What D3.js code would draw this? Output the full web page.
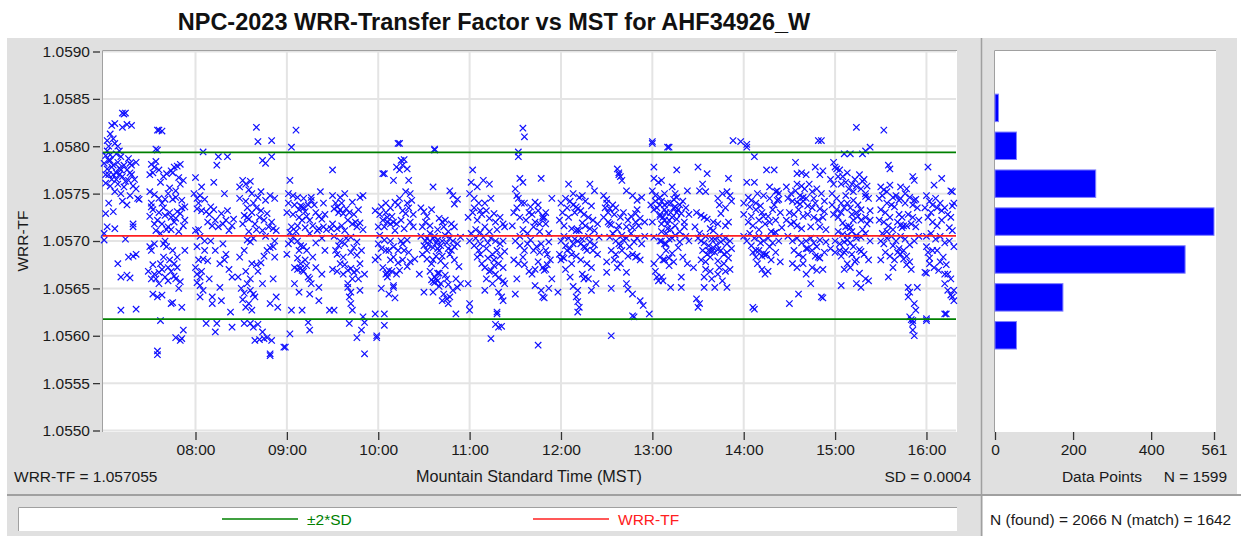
<!DOCTYPE html>
<html lang="en">
<head>
<meta charset="utf-8">
<title>NPC-2023 WRR-Transfer Factor vs MST</title>
<script src="https://cdn.jsdelivr.net/npm/d3@7"></script>
<style>
  body { margin: 0; background: #fff; }
  svg { display: block; font-family: "Liberation Sans", Arial, sans-serif; }
  .lbl { font-size: 15.5px; fill: #1a1a1a; }
  .axis text { font-size: 15.5px; fill: #1a1a1a; font-family: "Liberation Sans", Arial, sans-serif; }
  .axis line { stroke: #333; stroke-width: 1.3; }
</style>
</head>
<body>
<svg id="chart" width="1241" height="536"></svg>
<script>
// observations: [minutes after 07:00 MST, (WRR-TF - 1.05) * 1e5]
const obs07 = [
  [13,834],[14,835],[12,835],[5,822],[7,824],[12,820],[15,823],[18,822],[2,806],[4,813],[7,803],[9,800],[3,800],[6,808],
  [1,790],[4,791],[8,792],[11,789],[0,782],[2,776],[3,770],[5,765],[6,780],[8,772],[9,760],[10,777],[12,768],[13,757],
  [15,775],[16,764],[17,782],[18,770],[19,758],[11,750],[1,761],[7,752],[21,783],[21,755],[23,744],[19,715],[1,729],
  [6,731],[2,715],[7,713],[0,708],[0,701],[19,718],[22,745],[4,785],[10,795],
  [2,795],[3,785],[5,778],[6,770],[8,765],[9,783],[10,770],[11,775],[13,780],[14,763],[16,787],[17,772],[18,780],[20,765],
  [1,770],[4,758],[12,742],[15,738],[17,748],[3,740],
  [21,686],[16,683],[19,684],[9,676],[11,662],[15,664],[17,661],[11,627],[21,628],[14,702],
  [35,817],[36,817],[38,816],[34,797],[35,796],[31,781],[33,778],[36,775],[39,768],[41,771],[44,774],[46,778],[48,779],
  [50,781],[45,772],[52,764],[50,760],[30,752],[33,749],[38,740],[40,744],[42,750],[47,753],[51,743],[53,736],[31,740],
  [31,736],[32,733],[36,730],[40,727],[44,725],[48,731],[50,729],[35,722],[38,718],[42,715],[46,720],[52,716],[45,744],
  [47,746],[30,726],[34,711],[37,708],[41,712],[49,710],[53,722],
  [30,770],[32,772],[34,784],[37,762],[43,756],[49,767],[36,745],[39,735],[43,730],[47,724],[51,735],[33,718],[44,712],
  [40,700],[45,690],[42,672],[32,675],[49,650],[36,667],[47,660],
  [31,690],[33,697],[30,694],[39,683],[43,680],[46,676],[48,683],[29,668],[31,660],[33,665],[36,655],[38,670],[40,662],
  [42,658],[44,668],[46,663],[48,672],[50,657],[32,644],[35,641],[38,643],[44,634],[45,635],[51,630],[37,616],[52,606],
  [47,598],[50,595],[51,597],[35,584],[35,580],[53,690],[39,697],[41,694],[37,676],[34,660]
];
const obs08 = [
  [65,794],[75,789],[81,789],[74,780],[60,767],[72,762],[59,750],[61,745],[63,748],[66,744],[79,750],[61,734],[64,732],
  [67,731],[72,733],[70,736],[71,716],[75,715],[78,718],[82,711],[84,716],[60,711],[62,712],[68,720],[80,722],[85,723],
  [62,740],[64,757],[69,728],[73,722],[77,729],[81,732],[63,705],[66,700],[73,690],[79,680],[82,670],[65,648],[69,660],
  [61,694],[80,686],[62,680],[65,681],[68,679],[76,676],[60,672],[61,665],[63,662],[64,668],[61,656],[63,653],[63,641],
  [71,641],[77,637],[71,634],[83,625],[67,613],[74,613],[84,609],[73,604],[84,662],[76,651],[66,690],[70,700],[78,697],
  [100,820],[101,805],[110,806],[110,789],[106,782],[104,785],[89,757],[91,764],[93,760],[95,754],[96,763],[101,746],
  [103,752],[106,743],[109,748],[112,745],[92,727],[94,725],[95,723],[97,730],[99,718],[103,732],[105,722],[100,712],
  [104,711],[108,715],[111,713],[113,711],[91,718],[94,735],[98,740],[89,745],
  [93,742],[97,750],[100,735],[102,725],[107,729],[110,720],[95,710],[106,705],[93,668],[96,660],[105,684],[112,700],[111,660],
  [94,701],[96,699],[98,703],[92,690],[89,683],[97,676],[100,675],[103,677],[107,690],[109,693],[111,694],[112,683],
  [90,650],[92,645],[94,655],[96,648],[98,644],[91,638],[93,630],[95,634],[97,627],[99,641],[104,655],[109,634],[113,641],
  [114,630],[92,613],[96,613],[101,612],[98,609],[99,595],[102,596],[105,597],[107,598],[110,595],[109,581],[109,579],
  [104,604],[88,662],[101,668]
];
const obs09 = [
  [126,817],[123,799],[122,764],[121,750],[124,748],[127,746],[131,745],[136,743],[142,752],[136,746],[130,736],[129,737],
  [131,735],[120,730],[124,728],[128,725],[133,726],[135,722],[139,730],[143,723],[145,728],[130,722],[123,715],[127,716],
  [132,714],[137,716],[141,713],[144,715],[122,709],[126,710],[135,708],[140,711],[146,712],[128,733],[132,731],
  [121,740],[125,738],[134,738],[138,738],[141,726],[144,740],[127,700],[129,695],[133,690],[139,698],[143,703],[145,690],
  [127,682],[132,680],[139,672],[143,665],
  [121,697],[123,700],[124,704],[131,694],[120,686],[128,690],[137,683],[125,672],[127,670],[129,676],[131,668],[133,674],
  [129,671],[130,669],[135,660],[136,655],[134,662],[125,655],[141,651],[128,646],[135,644],[141,637],[123,627],[130,627],
  [148,627],[134,614],[135,606],[122,602],[119,588],[118,588],
  [150,775],[150,748],[155,746],[158,750],[170,748],[163,741],[168,746],[151,734],[153,736],[155,733],[154,730],[157,729],
  [159,734],[150,718],[153,713],[156,716],[160,722],[163,718],[166,715],[168,719],[170,712],[158,711],[165,720],[149,713],
  [152,740],[156,740],[161,730],[164,728],[167,733],[151,705],[154,695],[159,703],[164,693],[169,690],[155,676],[158,675],
  [163,660],[167,660],
  [155,700],[158,697],[162,704],[166,699],[152,690],[153,686],[157,683],[162,688],[166,685],[168,676],[150,670],[153,668],
  [157,665],[160,669],[162,671],[164,667],[166,669],[171,665],[160,655],[160,651],[168,648],[162,646],[161,641],[162,634],
  [151,627],[163,627],[170,620],[171,614],[161,613],[169,606],[171,581],[166,598]
];
const obs10 = [
  [183,771],[184,771],[178,732],[181,728],[183,722],[186,725],[185,730],[180,715],[184,715],[188,718],[182,736],[190,720],
  [180,697],[182,692],[184,701],[187,690],[178,680],[180,683],[183,672],[185,665],[187,669],[186,662],[182,650],[187,644],
  [190,653],[190,651],[178,623],[184,611],[184,623],[179,598],[179,600],[181,706],[185,690],[188,680],
  [193,803],[194,803],[195,785],[197,786],[192,778],[194,775],[196,780],[199,776],[190,764],[200,764],[201,750],[188,735],
  [191,741],[193,738],[196,732],[199,740],[202,743],[186,720],[189,726],[192,718],[195,722],[198,729],[201,720],[191,711],
  [197,713],[203,715],[188,700],[190,694],[193,690],[196,697],[199,701],[190,683],[193,677],[196,680],[199,673],[201,678],
  [204,681],[186,666],[189,668],[192,665],[194,669],[195,700],[191,640],
  [185,740],[194,745],[198,752],[200,735],[203,728],[197,690],[200,688],
  [217,796],[217,797],[216,757],[227,753],[229,748],[232,744],[230,739],[208,735],[210,731],[212,726],[215,733],[220,724],
  [222,720],[224,722],[228,718],[230,715],[208,705],[211,700],[213,696],[216,703],[218,698],[216,693],[219,701],[221,695],
  [224,706],[226,692],[229,700],[232,697],[234,704],[214,708],[226,710],
  [209,715],[211,720],[214,716],[219,712],[223,715],[210,695],[212,703],[214,700],[217,705],[219,692],[222,700],[225,698],
  [227,703],[230,694],[212,690],[220,690],[228,690],[216,680],[222,684],[219,666],[218,660],[216,657],[220,652],[225,660],
  [231,660],
  [209,686],[212,681],[215,676],[218,684],[221,679],[224,674],[227,686],[230,680],[233,673],[207,665],[214,668],[217,662],
  [220,666],[224,664],[215,659],[217,656],[219,658],[221,655],[226,654],[229,648],[232,651],[234,655],[210,646],[216,646],
  [223,644],[225,639],[227,641],[226,634],[231,623],[222,637]
];
const obs11 = [
  [242,775],[241,762],[245,757],[249,764],[253,760],[240,750],[243,745],[246,740],[239,725],[242,730],[245,722],[248,728],
  [251,732],[253,724],[256,729],[244,712],[247,709],[250,715],[253,710],[262,718],[241,708],[258,712],
  [243,735],[247,732],[250,740],[254,745],[257,720],[260,725],[263,715],[244,703],[247,697],[251,692],[254,703],[257,700],
  [260,697],[262,700],[247,686],[252,682],[256,680],[259,676],[262,672],[251,660],[255,655],
  [240,700],[243,695],[246,690],[249,704],[252,698],[255,686],[258,690],[260,684],[263,689],[245,683],[248,676],[250,672],
  [253,668],[254,669],[256,674],[257,665],[259,661],[262,658],[263,655],[239,655],[250,648],[259,646],[261,641],[262,637],
  [240,634],[240,627],[258,625],[258,623],[257,612],[261,610],[259,609],[254,597],
  [275,819],[276,810],[272,794],[272,789],[273,766],[275,762],[287,766],[270,755],[271,748],[272,745],[294,745],[276,740],
  [280,736],[283,741],[285,738],[269,730],[273,725],[277,722],[281,728],[285,732],[288,724],[288,726],[289,725],[290,730],
  [268,716],[275,712],[278,708],[282,715],[286,710],
  [271,735],[274,740],[279,730],[283,720],[286,718],[290,718],[292,708],[273,705],[278,697],[282,690],[286,688],[291,686],
  [276,675],[279,668],[283,670],[294,660],
  [270,700],[273,695],[276,690],[280,701],[284,694],[287,697],[290,690],[292,699],[269,680],[272,676],[275,683],[285,678],
  [288,672],[289,669],[290,670],[291,675],[293,680],[281,665],[271,660],[283,653],[287,648],[292,650],[270,644],[288,641],
  [289,640],[285,590]
];
const obs12 = [
  [305,760],[319,760],[322,753],[308,750],[312,746],[314,748],[300,740],[304,735],[308,738],[310,736],[311,734],[313,732],
  [316,742],[320,737],[299,722],[302,716],[305,725],[307,713],[310,711],[311,712],[312,711],[314,719],[316,716],[319,713],
  [322,711],[300,700],[303,695],[306,692],[309,702],[313,697],[315,694],[316,693],[317,690],[319,699],[322,696],[325,704],
  [299,686],[301,683],[300,680],[302,682],[307,676],[314,665],[315,660],[316,662],[323,655],[308,652],[311,648],[298,646],
  [310,641],[320,648],[311,636],[312,630],[311,625],
  [301,730],[303,745],[306,742],[309,730],[315,728],[318,725],[321,722],[324,718],[302,705],[305,703],[308,697],[311,700],
  [314,702],[318,705],[321,690],[324,686],[304,690],[307,686],[310,684],[313,680],[317,676],[320,672],[303,670],[306,662],
  [318,660],
  [337,776],[338,772],[339,768],[340,764],[338,770],[343,753],[328,748],[330,740],[332,734],[330,744],[347,748],[350,743],
  [353,746],[350,733],[349,729],[328,725],[331,720],[332,718],[333,717],[335,728],[338,716],[343,715],[347,714],[351,716],
  [329,735],[331,730],[334,738],[336,735],[339,725],[341,730],[344,722],[346,726],[349,720],[352,724],[355,720],[334,708],
  [337,712],[340,706],[343,703],[346,708],[350,703],[353,697],[355,705],[333,690],[336,686],[340,690],[344,684],[352,680],
  [335,680],[339,676],
  [332,704],[336,700],[338,697],[339,695],[341,701],[345,694],[348,699],[347,686],[349,683],[350,684],[330,678],[337,672],
  [330,667],[343,667],[343,655],[344,649],[333,650],[347,644],[352,637],[354,632],[347,621],[348,620],[333,600]
];
const obs13 = [
  [360,805],[371,799],[360,803],[361,778],[361,766],[364,762],[366,764],[360,753],[362,748],[365,746],[368,750],[359,738],
  [361,733],[363,735],[365,728],[367,725],[369,730],[371,722],[360,720],[366,718],[370,713],[375,716],
  [361,704],[365,700],[368,697],[371,702],[365,683],[368,680],[371,682],[361,676],[362,668],[363,662],[364,658],[366,662],
  [358,623],
  [370,799],[373,757],[375,750],[376,746],[383,753],[376,775],[366,742],[368,738],[372,740],[374,744],[375,736],[377,733],
  [379,729],[365,726],[368,722],[373,725],[376,723],[381,720],[381,715],[370,718],
  [362,742],[365,738],[368,733],[370,740],[372,730],[374,735],[376,730],[378,738],[380,742],[382,735],[384,728],[366,710],
  [369,708],[372,712],[375,706],[378,710],[382,705],[384,700],
  [366,700],[369,697],[373,703],[378,699],[369,690],[373,687],[377,693],[367,680],[371,674],[374,678],[383,676],[380,683],
  [379,662],[367,658],[372,651],[379,651],
  [390,778],[396,771],[410,766],[393,760],[391,753],[395,752],[403,745],[406,750],[409,752],[411,748],[404,738],[408,735],
  [412,742],[389,730],[392,727],[394,725],[396,723],[400,720],[403,718],[408,716],[410,720],[405,729],[400,711],[398,713],
  [388,715],[391,708],[395,705],[399,702],[402,696],[404,705],[408,703],[411,700],[393,690],[396,686],[400,693],[405,690],
  [409,688],[412,692],[395,670],[398,668],[404,672],[408,668],[411,670],
  [413,806],[390,703],[392,700],[394,698],[397,695],[401,702],[405,699],[409,697],[397,690],[399,689],[401,688],[403,691],
  [407,686],[392,680],[395,678],[398,683],[403,679],[407,676],[410,682],[387,672],[394,662],[399,660],[403,665],[406,658],
  [394,651],[401,651],[409,651],[389,639],[390,630],[391,634]
];
const obs14 = [
  [418,805],[422,802],[422,799],[427,789],[435,775],[440,775],[422,762],[427,762],[437,757],[441,752],[443,750],[442,753],
  [423,746],[428,740],[431,737],[442,743],[443,744],[424,736],[428,733],[432,730],[436,726],[439,733],[423,720],[426,716],
  [430,712],[434,718],[438,710],[441,722],[440,708],[441,709],[445,714],
  [420,740],[425,743],[429,750],[433,748],[437,745],[440,738],[444,730],[420,728],[425,726],[430,722],[433,726],[437,720],
  [420,705],[424,708],[427,703],[430,705],[433,700],[436,703],[439,698],[443,700],[426,688],[430,690],[438,680],[441,688],
  [444,678],
  [422,700],[425,695],[428,690],[431,698],[435,686],[432,684],[433,687],[434,685],[428,683],[437,694],[429,676],[432,670],
  [434,665],[436,668],[426,630],[427,628],
  [471,806],[469,806],[454,783],[467,778],[470,770],[472,774],[455,771],[458,772],[461,770],[448,757],[451,750],[454,753],
  [457,748],[459,746],[460,755],[465,752],[455,741],[457,739],[459,742],[462,737],[465,735],[467,740],[470,734],[473,731],
  [448,722],[451,718],[453,720],[455,716],[458,713],[464,715],[470,715],[474,712],
  [449,745],[452,742],[455,760],[458,758],[461,745],[463,760],[466,745],[468,755],[471,750],[473,742],[450,730],[453,728],
  [456,733],[459,726],[462,728],[466,725],[469,722],[472,725],[449,705],[452,700],[455,703],[458,698],[461,692],[465,690],
  [468,694],[473,688],[455,672],[461,665],
  [461,700],[464,703],[466,698],[470,701],[474,699],[453,690],[456,686],[459,683],[462,692],[467,684],[469,683],[470,682],
  [452,676],[459,676],[465,672],[468,669],[472,670],[464,655],[456,644],[471,641],[472,640],[450,634]
];
const obs15 = [
  [494,820],[512,817],[498,792],[500,795],[503,799],[486,792],[490,792],[479,783],[480,778],[481,776],[483,775],[485,768],
  [488,772],[491,760],[493,765],[496,770],[498,763],[499,765],[501,758],[478,750],[481,745],[484,740],[487,748],[490,735],
  [492,743],[495,738],[497,733],[500,747],[503,732],[479,728],[482,725],[485,719],[487,715],[489,716],[490,714],[492,722],
  [495,726],[498,712],[501,718],
  [477,765],[479,760],[482,768],[484,760],[487,762],[489,755],[492,752],[494,758],[497,755],[500,750],[502,745],[478,738],
  [481,733],[484,730],[486,735],[488,740],[491,728],[494,730],[497,722],[500,725],[503,722],[482,710],[485,707],[488,706],
  [491,710],[494,706],[497,704],[500,708],[503,700],[483,690],[486,688],[492,694],[499,686],[502,680],[486,670],[496,666],
  [480,700],[483,697],[486,699],[488,701],[490,698],[494,703],[477,692],[480,688],[484,684],[487,690],[491,686],[496,691],
  [497,689],[488,676],[490,672],[493,678],[494,680],[484,653],[494,655],[497,651],[500,660],[502,658],
  [515,780],[516,776],[531,768],[532,764],[510,757],[512,754],[514,752],[516,759],[523,757],[527,755],[518,746],[522,743],
  [526,740],[532,743],[533,744],[510,733],[513,730],[516,725],[519,736],[522,728],[523,717],[527,716],[530,718],[533,715],
  [524,714],[525,716],
  [509,745],[511,748],[514,740],[517,738],[520,748],[523,745],[526,750],[529,746],[531,738],[534,735],[509,722],[512,720],
  [515,716],[518,712],[521,720],[524,725],[528,728],[531,725],[535,722],[511,708],[514,710],[517,705],[520,700],[523,705],
  [526,702],[529,696],[532,700],[535,705],[513,688],[516,684],[519,680],[527,675],[530,670],
  [510,700],[512,697],[514,703],[518,695],[522,692],[525,690],[521,688],[523,686],[525,681],[527,684],[529,678],[510,680],
  [518,672],[515,662],[528,651],[534,651],[529,646],[528,641],[532,634],[533,627],[529,620],[530,617],[531,613],[531,616],
  [531,606],[532,600]
];
const obs16 = [
  [541,778],[550,766],[545,759],[556,753],[557,752],[558,740],[540,748],[542,742],[544,738],[547,735],[550,732],[557,737],
  [541,725],[544,720],[547,716],[550,722],[555,714],[557,711],
  [539,735],[543,730],[546,745],[549,740],[552,735],[554,728],[556,725],[540,705],[543,708],[546,702],[549,705],[552,698],
  [555,700],[558,694],[544,690],[549,678],[553,675],[556,660],[558,648],
  [540,694],[541,688],[542,682],[547,690],[551,683],[542,676],[545,672],[548,669],[539,667],[540,666],[552,665],[554,665],
  [552,655],[554,648],[556,643],[557,641],[558,637],[553,623],[540,616],[540,618],[552,623]
];

// summary statistics shown on the chart
const wrrMean = 1.057055;
const wrrSD = 0.00044;
const sdLabel = '0.0004';
const nPoints = 1599, nFound = 2066, nMatch = 1642;

// histogram
const binLow = [1.05826, 1.05786, 1.05746, 1.05706, 1.05666, 1.05626, 1.05586];
const binCount = [9, 55, 258, 561, 487, 174, 55];
const histTicks = [0, 200, 400, 561];

const yTicks = [1.0550, 1.0555, 1.0560, 1.0565, 1.0570, 1.0575, 1.0580, 1.0585, 1.0590];
const hourTicks = [8, 9, 10, 11, 12, 13, 14, 15, 16];

const svg = d3.select('#chart');
const day = new Date(2023, 8, 27, 7, 0, 0);
const at = m => new Date(day.getTime() + m * 60000);

const x = d3.scaleTime().domain([at(-1.4), at(559.4)]).range([102, 956]);
const y = d3.scaleLinear().domain([1.0550, 1.0590]).range([430.5, 51.5]);
const hx = d3.scaleLinear().domain([0, 561]).range([995, 1214]);

// background panels
svg.append('rect').attr('x', 7).attr('y', 38).attr('width', 973).attr('height', 498).attr('fill', '#e0e0e0');
svg.append('rect').attr('x', 983).attr('y', 38).attr('width', 254).attr('height', 457).attr('fill', '#e0e0e0');
svg.append('line').attr('x1', 7).attr('x2', 1241).attr('y1', 495).attr('y2', 495).attr('stroke', '#a0a0a0').attr('stroke-width', 2);
svg.append('line').attr('x1', 981.5).attr('x2', 981.5).attr('y1', 38).attr('y2', 536).attr('stroke', '#a0a0a0').attr('stroke-width', 2);

// title
svg.append('text').attr('x', 494).attr('y', 30).attr('text-anchor', 'middle')
  .style('font-size', '23.5px').style('font-weight', 'bold').attr('fill', '#111')
  .text('NPC-2023 WRR-Transfer Factor vs MST for AHF34926_W');

// scatter plot area
svg.append('rect').attr('x', 102).attr('y', 50).attr('width', 855).attr('height', 382).attr('fill', '#fff');
const grid = svg.append('g').attr('stroke', '#e4e4e4').attr('stroke-width', 2);
grid.selectAll('.gy').data(yTicks).join('line')
  .attr('x1', 103).attr('x2', 956).attr('y1', d => y(d)).attr('y2', d => y(d));
grid.selectAll('.gx').data(hourTicks).join('line')
  .attr('x1', d => x(at((d - 7) * 60))).attr('x2', d => x(at((d - 7) * 60)))
  .attr('y1', 51).attr('y2', 431);
svg.append('path').attr('d', 'M102.5,432V50.5H957').attr('fill', 'none').attr('stroke', '#a0a0a0');

const allObs = [].concat(obs07, obs08, obs09, obs10, obs11, obs12, obs13, obs14, obs15, obs16);
svg.append('g').selectAll('path').data(allObs).join('path')
  .attr('d', d => {
    const px = x(at(d[0])), py = y(1.05 + d[1] / 1e5);
    return `M${px - 3.2},${py - 3.2}L${px + 3.2},${py + 3.2}M${px - 3.2},${py + 3.2}L${px + 3.2},${py - 3.2}`;
  })
  .attr('stroke', '#1010ff').attr('stroke-width', 1.2).attr('fill', 'none');

// mean and +/-2 SD lines
const refLines = [
  { v: wrrMean + 2 * wrrSD, c: '#008000' },
  { v: wrrMean - 2 * wrrSD, c: '#008000' },
  { v: wrrMean, c: '#ff2020' }
];
svg.append('g').selectAll('line').data(refLines).join('line')
  .attr('x1', 103).attr('x2', 956).attr('y1', d => y(d.v)).attr('y2', d => y(d.v))
  .attr('stroke', d => d.c).attr('stroke-width', 1.8);

// axes
svg.append('g').attr('class', 'axis').attr('transform', 'translate(100,0)')
  .call(d3.axisLeft(y).tickValues(yTicks).tickFormat(d3.format('.4f')).tickSize(7).tickPadding(3))
  .call(g => g.select('.domain').remove());
svg.append('g').attr('class', 'axis').attr('transform', 'translate(0,432)')
  .call(d3.axisBottom(x).tickValues(hourTicks.map(h => at((h - 7) * 60))).tickFormat(d3.timeFormat('%H:%M')).tickSize(8).tickPadding(4))
  .call(g => g.select('.domain').remove());

svg.append('text').attr('class', 'lbl').attr('transform', 'translate(28,241) rotate(-90)')
  .attr('text-anchor', 'middle').text('WRR-TF');
svg.append('text').attr('class', 'lbl').attr('x', 14).attr('y', 482).text('WRR-TF = ' + wrrMean.toFixed(6));
svg.append('text').attr('class', 'lbl').attr('x', 529).attr('y', 482).attr('text-anchor', 'middle')
  .style('font-size', '16.2px').text('Mountain Standard Time (MST)');
svg.append('text').attr('class', 'lbl').attr('x', 971).attr('y', 482).attr('text-anchor', 'end').text('SD = ' + sdLabel);

// histogram panel
svg.append('rect').attr('x', 994).attr('y', 50).attr('width', 222).attr('height', 382).attr('fill', '#fff');
svg.append('path').attr('d', 'M994.5,432V50.5H1216').attr('fill', 'none').attr('stroke', '#a0a0a0');
svg.append('g').selectAll('rect').data(binLow).join('rect')
  .attr('x', hx(0)).attr('y', d => y(d + 0.00029))
  .attr('width', (d, i) => hx(binCount[i]) - hx(0))
  .attr('height', d => y(d) - y(d + 0.00029))
  .attr('fill', '#0000ff').attr('stroke', '#8080ff').attr('stroke-width', 1);
svg.append('g').attr('class', 'axis').attr('transform', 'translate(0,432)')
  .call(d3.axisBottom(hx).tickValues(histTicks).tickFormat(d3.format('d')).tickSize(8).tickPadding(4))
  .call(g => g.select('.domain').remove());
svg.append('text').attr('class', 'lbl').attr('x', 1102).attr('y', 482).attr('text-anchor', 'middle').text('Data Points');
svg.append('text').attr('class', 'lbl').attr('x', 1227).attr('y', 482).attr('text-anchor', 'end').text('N = ' + nPoints);

// legend strip
svg.append('rect').attr('x', 18).attr('y', 507).attr('width', 939).attr('height', 24).attr('fill', '#fff');
svg.append('path').attr('d', 'M18.5,531V507.5H957').attr('fill', 'none').attr('stroke', '#a0a0a0');
const legend = [
  { x: 222, label: '\u00b12*SD', c: '#008000' },
  { x: 533, label: 'WRR-TF', c: '#ff2020' }
];
const lg = svg.append('g').selectAll('g').data(legend).join('g');
lg.append('line').attr('x1', d => d.x).attr('x2', d => d.x + 76).attr('y1', 519).attr('y2', 519)
  .attr('stroke', d => d.c).attr('stroke-width', 1.6);
lg.append('text').attr('class', 'lbl').attr('x', d => d.x + 85).attr('y', 525)
  .style('fill', d => d.c).text(d => d.label);

svg.append('rect').attr('x', 983).attr('y', 496).attr('width', 258).attr('height', 40).attr('fill', '#fff');
svg.append('text').attr('class', 'lbl').attr('x', 990).attr('y', 525)
  .text(`N (found) = ${nFound} N (match) = ${nMatch}`);
</script>
</body>
</html>
